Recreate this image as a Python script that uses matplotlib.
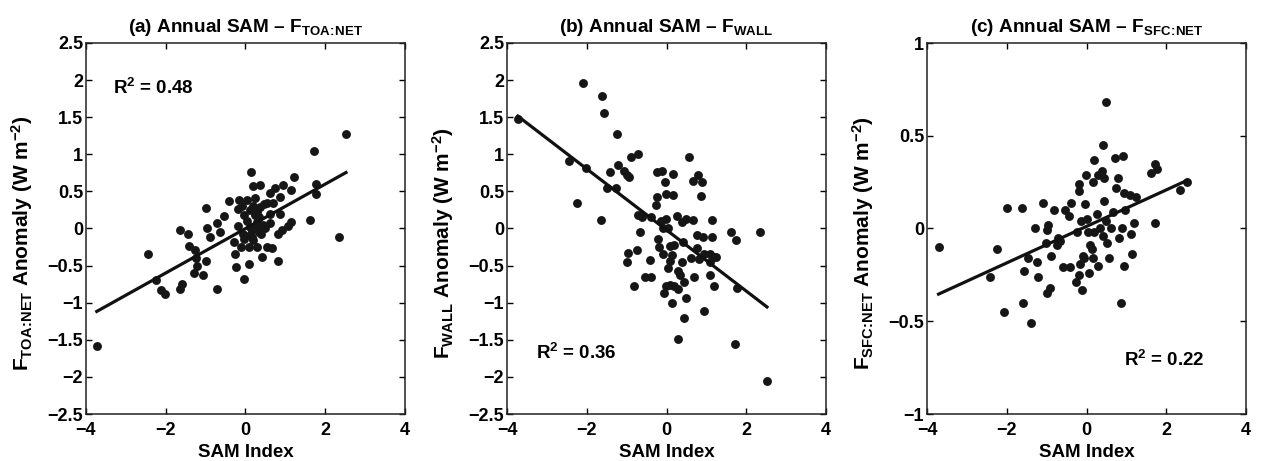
import numpy as np
import matplotlib
matplotlib.use("Agg")
import matplotlib.pyplot as plt

plt.rcParams['font.family'] = ['Liberation Sans', 'DejaVu Sans']
plt.rcParams['font.weight'] = 'bold'
plt.rcParams['mathtext.fontset'] = 'custom'
plt.rcParams['mathtext.rm'] = 'Liberation Sans:bold'
plt.rcParams['mathtext.bf'] = 'Liberation Sans:bold'
plt.rcParams['mathtext.it'] = 'Liberation Sans:bold'
plt.rcParams['mathtext.sf'] = 'Liberation Sans:bold'
plt.rcParams['axes.unicode_minus'] = True

# ---------------- data ----------------
sam_a = [-3.73, -2.44, -2.25, -2.12, -2.02, -1.65, -1.60, -1.65, -1.45, -1.41,
         -1.26, -1.23, -1.21, -1.28, -1.06, -0.98, -0.98, -0.96, -0.89, -0.72,
         -0.64, -0.72, -0.54, -0.42, -0.17, -0.20, -0.18, -0.07, -0.30, -0.12,
         -0.27, -0.24, -0.03, 0.08, 0.03, 0.13, 0.18, 0.24, 0.12, 0.12,
         0.12, 0.10, 0.29, 0.37, 0.47, 0.37, 0.34, 0.40, 0.42, 0.54,
         0.67, 0.61, 0.62, 0.62, 0.87, 0.87, 0.94, 1.14, 1.21, 0.91,
         0.81, 1.13, 1.06, 0.81, 1.63, 1.73, 1.76, 1.78, 2.34, 2.52,
         0.29, 0.17, -0.05, 0.24, 0.29, 0.50, -0.05,
         0.20, 0.30, 0.16, 0.33, 0.45, 0.55, 0.70, -0.10, 0.05, 0.75, 0.20]
toa = [-1.58, -0.34, -0.70, -0.83, -0.88, -0.81, -0.75, -0.02, -0.08, -0.24,
       -0.29, -0.40, -0.51, -0.60, -0.63, -0.44, 0.27, 0.01, -0.11, 0.08,
       -0.05, -0.82, 0.17, 0.37, 0.39, 0.26, 0.03, -0.07, -0.18, -0.25,
       -0.34, -0.52, -0.68, -0.48, 0.39, 0.76, 0.57, 0.41, 0.25, 0.02,
       -0.09, -0.25, -0.25, 0.58, 0.33, 0.29, 0.16, -0.07, -0.39, -0.25,
       -0.26, 0.48, 0.20, 0.07, 0.20, 0.43, 0.59, 0.52, 0.69, -0.02,
       -0.08, 0.09, 0.03, -0.44, 0.11, 1.05, 0.60, 0.46, -0.11, 1.28,
       0.09, -0.11, -0.14, 0.18, 0.00, 0.00, 0.18,
       0.30, 0.22, -0.02, -0.05, 0.05, 0.35, 0.35, 0.30, 0.10, 0.55, -0.16]

sam_b = [-3.73, -2.10, -1.61, -1.57, -1.23, -2.44, -2.02, -2.25, -1.65, -1.41,
         -1.48, -1.26, -1.21, -1.06, -0.99, -0.94, -0.89, -0.72, -0.72, -0.61,
         -0.66, -0.40, -0.97, -0.99, -0.74, -0.82, -0.54, -0.39, -0.42, -0.24,
         -0.12, -0.03, 0.17, -0.24, -0.27, -0.02, 0.17, -0.22, -0.20, -0.15,
         -0.10, -0.02, 0.05, 0.10, -0.08, 0.05, 0.08, 0.15, 0.20, 0.27,
         0.40, 0.49, 0.66, 0.42, 0.30, 0.40, 0.44, 0.35, -0.02, 0.10,
         0.20, -0.07, 0.30, 0.15, 0.50, 0.44, 0.29, 0.57, 0.79, 0.66,
         0.89, 0.87, 1.13, 0.77, 0.92, 1.14, 0.77, 0.61, 0.82, 0.94,
         1.09, 1.19, 1.24, 1.09, 0.69, 1.08, 1.19, 0.94, 1.63, 1.75,
         2.34, 1.76, 1.73, 2.52]
wall = [1.47, 1.96, 1.79, 1.55, 1.27, 0.91, 0.82, 0.34, 0.12, 0.76,
        0.54, 0.55, 0.86, 0.78, 0.72, 0.70, 0.97, 1.01, 0.18, 0.16,
        -0.05, 0.16, -0.33, -0.45, -0.29, -0.78, -0.65, -0.65, -0.42, 0.76,
        0.78, 0.63, 0.74, 0.43, 0.32, 0.47, 0.45, -0.14, -0.25, 0.10,
        0.01, 0.13, 0.00, -0.23, -0.35, -0.53, -0.44, -0.36, -0.22, 0.17,
        0.09, 0.13, 0.12, -0.18, -0.57, -0.45, -0.72, -0.63, -0.77, -0.76,
        -0.77, -0.87, -0.82, -1.01, -0.93, -1.21, -1.49, 0.97, 0.72, 0.64,
        0.63, 0.44, 0.11, -0.09, -0.12, -0.12, -0.26, -0.40, -0.41, -0.34,
        -0.34, -0.38, -0.39, -0.45, -0.65, -0.63, -0.78, -1.11, -0.05, -0.15,
        -0.05, -0.80, -1.55, -2.05]

sam_c = [-3.71, -2.42, -2.24, -2.08, -2.00, -1.63, -1.60, -1.56, -1.38, -1.46,
         -1.24, -1.28, -1.21, -1.08, -1.01, -0.97, -0.99, -0.89, -0.99, -0.92,
         -0.81, -0.74, -0.71, -0.67, -0.59, -0.54, -0.44, -0.40, -0.42, -0.25,
         -0.20, -0.20, -0.13, -0.10, -0.03, -0.02, 0.02, 0.03, -0.07, -0.17,
         -0.20, -0.27, -0.12, 0.07, 0.10, 0.15, 0.17, 0.18, 0.17, 0.20,
         0.27, 0.30, 0.30, 0.35, 0.39, 0.42, 0.44, 0.45, 0.42, 0.49,
         0.52, 0.50, 0.57, 0.62, 0.66, 0.71, 0.74, 0.79, 0.82, 0.86,
         0.89, 0.91, 0.94, 0.94, 0.96, 1.08, 1.11, 1.13, 1.19, 1.23,
         1.61, 1.73, 1.76, 1.73, 2.34, 2.52]
sfc = [-0.10, -0.26, -0.11, -0.45, 0.11, 0.11, -0.40, -0.23, -0.51, -0.16,
       -0.18, 0.00, -0.26, 0.14, -0.08, 0.02, -0.01, -0.15, -0.35, -0.32,
       0.10, -0.09, -0.05, -0.07, -0.21, 0.10, 0.07, 0.14, -0.21, -0.02,
       0.24, 0.20, 0.04, -0.15, 0.13, 0.29, 0.05, -0.02, -0.16, -0.19,
       -0.25, -0.29, -0.33, -0.24, -0.09, -0.11, -0.16, 0.37, 0.25, -0.02,
       0.08, 0.29, -0.20, 0.00, 0.31, 0.45, 0.15, 0.27, -0.04, 0.04,
       -0.08, 0.68, -0.16, 0.00, 0.09, 0.38, 0.22, 0.27, -0.05, -0.40,
       0.00, 0.39, -0.20, 0.19, 0.10, 0.18, -0.03, -0.14, 0.03, 0.17,
       0.30, 0.35, 0.32, 0.03, 0.21, 0.25]

r2_values = ["0.48", "0.36", "0.22"]
panel_titles = [r"(a) Annual SAM – F$_{\mathrm{TOA\!:\!NET}}$",
                r"(b) Annual SAM – F$_{\mathrm{WALL}}$",
                r"(c) Annual SAM – F$_{\mathrm{SFC\!:\!NET}}$"]
ylabels = [r"F$_{\mathrm{TOA\!:\!NET}}$ Anomaly (W m$^{\mathrm{-2}}$)",
           r"F$_{\mathrm{WALL}}$ Anomaly (W m$^{\mathrm{-2}}$)",
           r"F$_{\mathrm{SFC\!:\!NET}}$ Anomaly (W m$^{\mathrm{-2}}$)"]
xlabel = "SAM Index"
ylims = [(-2.5, 2.5), (-2.5, 2.5), (-1, 1)]
yticks = [np.arange(-2.5, 2.51, 0.5), np.arange(-2.5, 2.51, 0.5), np.arange(-1, 1.01, 0.5)]
ytick_labels = [["−2.5", "−2", "−1.5", "−1", "−0.5", "0", "0.5", "1", "1.5", "2", "2.5"],
                ["−2.5", "−2", "−1.5", "−1", "−0.5", "0", "0.5", "1", "1.5", "2", "2.5"],
                ["−1", "−0.5", "0", "0.5", "1"]]
xticks = [-4, -2, 0, 2, 4]
xtick_labels = ["−4", "−2", "0", "2", "4"]
r2_pos = [(-3.32, 1.89), (-3.27, -1.68), (0.95, -0.71)]

# ---------------- figure ----------------
W, H = 1261, 461
fig = plt.figure(figsize=(W / 100, H / 100), dpi=100)
lefts = [86, 507, 927]
ax_w, top, bot = 319, 43, 414

xs = [sam_a, sam_b, sam_c]
ys = [toa, wall, sfc]
for i in range(3):
    ax = fig.add_axes([lefts[i] / W, 1 - bot / H, ax_w / W, (bot - top) / H])
    x = np.array(xs[i]); y = np.array(ys[i])
    ax.plot(x, y, 'o', color='#161616', markersize=6.4, markeredgewidth=0)
    p = np.polyfit(x, y, 1)
    xl = np.array([x.min(), x.max()])
    ax.plot(xl, np.polyval(p, xl), '-', color='#111111', lw=2.3)
    ax.set_xlim(-4, 4)
    ax.set_ylim(*ylims[i])
    ax.set_xticks(xticks)
    ax.set_xticklabels(xtick_labels)
    ax.set_yticks(yticks[i])
    ax.set_yticklabels(ytick_labels[i])
    ax.tick_params(direction='in', length=4, width=1, top=True, right=True,
                   labelsize=13)
    ax.tick_params(axis='y', pad=2)
    ax.tick_params(axis='x', pad=6)
    for lab in ax.get_xticklabels() + ax.get_yticklabels():
        lab.set_fontweight('bold')
    for s in ax.spines.values():
        s.set_linewidth(1.1)
        s.set_color('#222222')
    ax.set_xlabel(xlabel, fontsize=13.5, fontweight='bold', labelpad=3)
    ax.set_ylabel(ylabels[i], fontsize=15, fontweight='bold')
    ax.yaxis.set_label_coords(-0.16, 0.46)
    ax.set_title(panel_titles[i], fontsize=13.7, fontweight='bold', pad=8)
    ax.text(r2_pos[i][0], r2_pos[i][1], r"R$^{\mathrm{2}}$ = " + r2_values[i],
            fontsize=13.5, fontweight='bold', ha='left', va='center')

fig.savefig("out.png", dpi=100, facecolor='white')
